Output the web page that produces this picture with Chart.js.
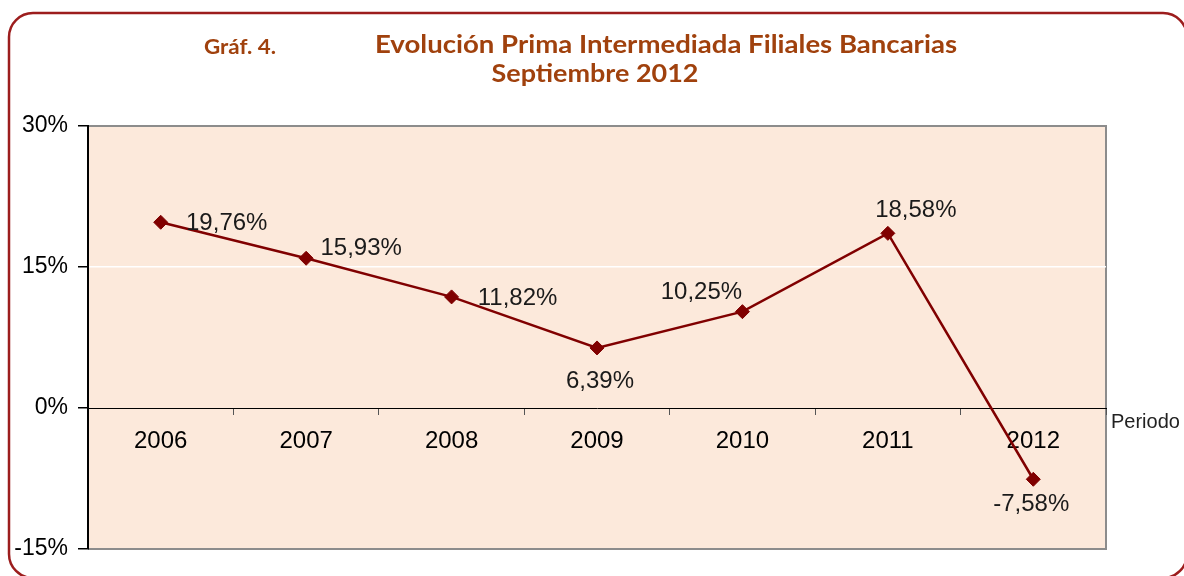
<!DOCTYPE html>
<html>
<head>
<meta charset="utf-8">
<script src="https://cdn.jsdelivr.net/npm/chart.js@4.4.0/dist/chart.umd.min.js"></script>
<style>
  html, body { margin: 0; padding: 0; background: #ffffff; }
  #wrap { position: relative; width: 1184px; height: 576px; }
</style>
</head>
<body>
<div id="wrap"><canvas id="chart" width="1184" height="576"></canvas></div>
<script>
// data
const periods = ['2006', '2007', '2008', '2009', '2010', '2011', '2012'];
const prima = [19.76, 15.93, 11.82, 6.39, 10.25, 18.58, -7.58];
const yTicks = [-15, 0, 15, 30];

// where each value label sits relative to its point (dx, dy)
const labelShift = [[66, 1], [55, -10], [66, 1], [3, 33], [-41, -19], [28, -23], [-2, 25]];

const FONT = '"Liberation Sans", Arial, sans-serif';
const TITLE_FONT = 'Lato, "Open Sans", sans-serif';
const TITLE_COLOR = '#A0410D';
const LINE_COLOR = '#800000';

function fmt(v){
  return v.toFixed(2).replace('.', ',') + '%';
}

// text squeezed to a given width (the original title is Calibri, narrower than anything we have)
function fitText(ctx, text, cx, baseline, font, width){
  ctx.save();
  ctx.font = font;
  const w = ctx.measureText(text).width;
  ctx.translate(cx, baseline);
  ctx.scale(width / w, 1);
  ctx.textAlign = 'center';
  ctx.textBaseline = 'alphabetic';
  ctx.fillText(text, 0, 0);
  ctx.restore();
}

const frame = {
  id: 'frame',
  beforeDraw(chart){
    const {ctx, chartArea: {left, top, right, bottom}} = chart;
    ctx.save();

    // rounded outer border
    ctx.beginPath();
    ctx.roundRect(9, 13, 1178, 565, 24);
    ctx.strokeStyle = '#9C1D1D';
    ctx.lineWidth = 2.5;
    ctx.stroke();

    // titles
    ctx.fillStyle = TITLE_COLOR;
    fitText(ctx, 'Gráf. 4.', 240, 54, 'bold 21px ' + TITLE_FONT, 72);
    fitText(ctx, 'Evolución Prima Intermediada Filiales Bancarias', 666, 53, 'bold 25px ' + TITLE_FONT, 582);
    fitText(ctx, 'Septiembre 2012', 595, 82, 'bold 25px ' + TITLE_FONT, 207);

    // plot area
    ctx.fillStyle = '#FCE9DB';
    ctx.fillRect(left, top, right - left, bottom - top);
    ctx.strokeStyle = '#8C8C8C';
    ctx.lineWidth = 2;
    ctx.beginPath();
    ctx.moveTo(left, top);
    ctx.lineTo(right, top);
    ctx.lineTo(right, bottom);
    ctx.lineTo(left, bottom);
    ctx.stroke();
    ctx.restore();
  },
  afterDatasetsDraw(chart){
    const {ctx, scales: {y}, chartArea: {right}} = chart;
    const meta = chart.getDatasetMeta(0);
    ctx.save();
    ctx.font = '24px ' + FONT;
    ctx.fillStyle = '#1a1a1a';
    ctx.textAlign = 'center';
    ctx.textBaseline = 'middle';
    meta.data.forEach((pt, i) => {
      const [dx, dy] = labelShift[i];
      ctx.fillText(fmt(prima[i]), pt.x + dx, pt.y + dy);
    });

    ctx.font = '20px ' + FONT;
    ctx.fillStyle = '#222';
    ctx.textAlign = 'left';
    ctx.fillText('Periodo', right + 5, y.getPixelForValue(0) + 14);
    ctx.restore();
  }
};

const ctx = document.getElementById('chart').getContext('2d');

const config = {
  type: 'line',
  data: {
    labels: periods,
    datasets: [{
      label: 'Prima intermediada',
      data: prima,
      borderColor: LINE_COLOR,
      backgroundColor: LINE_COLOR,
      borderWidth: 2.5,
      tension: 0,
      pointStyle: 'rectRot',
      pointRadius: 7,
      pointBackgroundColor: LINE_COLOR,
      pointBorderColor: LINE_COLOR,
      pointBorderWidth: 1,
      clip: false
    }]
  },
  options: {
    responsive: false,
    animation: false,
    layout: { padding: { top: 126, right: 78, bottom: 27, left: 0 } },
    plugins: {
      legend: { display: false },
      tooltip: { enabled: false }
    },
    scales: {
      x: {
        position: { y: 0 },
        offset: true,
        afterFit(scale){ scale.height = 0; },
        grid: { drawOnChartArea: false, offset: true, tickLength: 6, tickColor: '#555' },
        border: { color: '#000', dash: [3, 2], width: 1 },
        ticks: { color: '#000', font: { family: FONT, size: 24 }, padding: 13, maxRotation: 0 }
      },
      y: {
        min: -15,
        max: 30,
        afterBuildTicks(scale){ scale.ticks = yTicks.map(v => ({ value: v })); },
        afterFit(scale){ scale.width = 88; },
        grid: {
          color: c => (c.tick && c.tick.value === 15) ? '#ffffff' : 'rgba(0,0,0,0)',
          lineWidth: 1.5,
          tickLength: 10,
          tickColor: '#000'
        },
        border: { color: '#000', width: 2 },
        ticks: { color: '#000', font: { family: FONT, size: 23 }, padding: 10, callback: v => v + '%' }
      }
    }
  },
  plugins: [frame]
};

const chart = new Chart(ctx, config);
</script>
</body>
</html>
